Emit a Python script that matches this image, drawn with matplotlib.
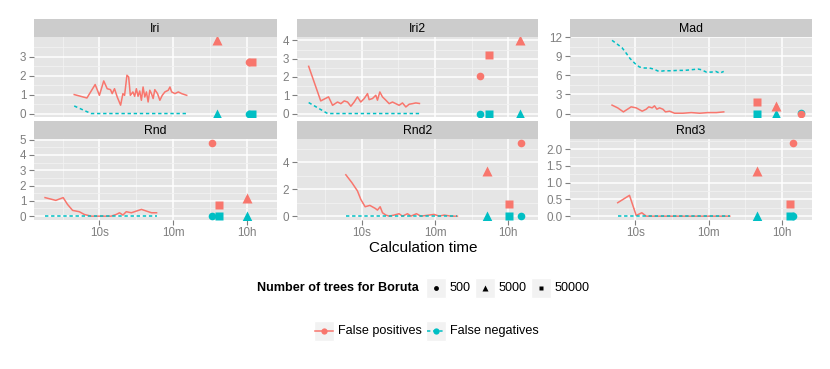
import matplotlib.pyplot as plt
import matplotlib.patches as mpatches
import numpy as np

plt.rcParams['font.family'] = ['Liberation Sans', 'DejaVu Sans']

RED = '#F8766D'
CYAN = '#00BFC4'

panels = ['Iri', 'Iri2', 'Mad', 'Rnd', 'Rnd2', 'Rnd3']
tree_counts = ['500', '5000', '50000']
x_breaks = [10, 600, 36000]
x_labels = ['10s', '10m', '10h']

# line data: calculation time in seconds, false positives / false negatives
iri_fp_t = [2.47, 5.0, 7.9, 10, 12.7, 15.4, 18.5, 20.3, 23.1, 26.9, 32.4, 36.8, 40.4, 46, 50.6, 55.6,
            64, 70.7, 77.6, 85.2, 93.5, 102.6, 112.7, 123.7, 135.8, 149, 163.6, 179.6, 197,
            216, 251, 286, 326, 378, 456, 500, 550, 661, 796, 960, 1270]
iri_fp = [1.0, 0.82, 1.53, 0.96, 1.72, 1.31, 1.26, 1.05, 1.31, 0.87, 0.44, 1.05, 0.96, 2.02, 1.93, 0.96,
          1.14, 0.91, 1.31, 0.91, 1.19, 0.70, 1.40, 0.87, 1.14, 0.61, 1.23, 1.05, 0.79,
          1.26, 1.05, 0.70, 0.96, 1.14, 1.23, 1.40, 1.14, 1.05, 1.14, 1.05, 0.96]
iri_fn_t = [2.47, 6.3, 1270]
iri_fn = [0.4, 0, 0]

iri2_fp_t = [0.51, 1.0, 1.55, 1.94, 2.56, 3.09, 3.72, 4.48, 5.4, 6.5, 7.8, 9.4, 11.4, 13.7, 15.0, 18.1,
             21.8, 23.9, 27.3, 31.6, 38.2, 46, 55.4, 66.7, 80.3, 96.8, 117, 141, 169, 204, 250]
iri2_fp = [2.58, 0.69, 0.91, 0.45, 0.63, 0.54, 0.69, 0.63, 0.40, 0.63, 0.91, 0.63, 0.82, 1.09, 0.76, 0.82,
           1.0, 0.73, 1.18, 0.91, 0.73, 0.54, 0.63, 0.54, 0.45, 0.58, 0.36, 0.51, 0.54, 0.58, 0.55]
iri2_fn_t = [0.51, 1.47, 250]
iri2_fn = [0.6, 0, 0]

mad_fp_t = [2.76, 3.78, 5.2, 8.0, 10.6, 14.8, 18.5, 21.4, 25.8, 29.4, 33.5, 38.9, 46.9, 54.3, 68, 90,
            143, 228, 364, 580, 923, 1390]
mad_fp = [1.32, 0.89, 0.26, 1.05, 0.89, 0.37, 0.68, 1.05, 0.89, 1.21, 0.68, 0.89, 0.68, 0.26, 0.37, 0.05,
          0.05, 0.15, 0.05, 0.15, 0.15, 0.26]
mad_fn_t = [2.76, 3.58, 4.83, 6.0, 7.55, 10.2, 12.7, 16.8, 22.2, 27.8, 37.5, 51.4, 74.6, 108, 157, 228,
            331, 399, 528, 698, 889, 1112, 1390]
mad_fn = [11.48, 10.95, 10.31, 9.52, 8.62, 7.77, 7.30, 7.14, 7.14, 6.98, 6.61, 6.71, 6.71, 6.77, 6.77, 6.87,
          6.98, 6.87, 6.50, 6.50, 6.61, 6.34, 6.61]

rnd_fp_t = [0.49, 0.89, 1.34, 1.70, 2.26, 3.27, 4.33, 6.3, 12.1, 19.2, 25.4, 30.5, 36.8, 44.3, 58.7, 77.6,
            103, 136, 180, 238]
rnd_fp = [1.21, 1.03, 1.21, 0.77, 0.375, 0.29, 0.11, 0, 0, 0, 0.11, 0.22, 0.07, 0.29, 0.22, 0.33,
          0.44, 0.33, 0.22, 0.22]
rnd_fn_t = [0.49, 238]
rnd_fn = [0, 0]

rnd2_fp_t = [4.08, 5.7, 7.8, 9.4, 12.0, 15.6, 21, 23.9, 27.8, 31.7, 38.2, 46, 60.8, 80, 97, 128, 155,
             212, 270, 430, 569, 752, 995, 1446, 2090]
rnd2_fp = [3.08, 2.50, 1.88, 1.25, 0.70, 0.80, 0.58, 0.45, 0.70, 0.25, 0.08, 0, 0.08, 0.18, 0, 0.18, 0,
           0.18, 0, 0.08, 0.13, 0, 0.08, 0, 0]
rnd2_fn_t = [4.08, 2090]
rnd2_fn = [0, 0]

rnd3_fp_t = [3.79, 7.3, 10.6, 14.5, 18.5, 1945]
rnd3_fp = [0.40, 0.62, 0.02, 0.10, 0, 0]
rnd3_fn_t = [3.79, 1945]
rnd3_fn = [0, 0]

# Boruta runs, order 500 / 5000 / 50000 trees
iri_bt_t = [39900, 6790, 47100]
iri_bt_fp = [2.74, 3.86, 2.74]
iri_bt_fn = [0, 0, 0]
iri2_bt_t = [7430, 68400, 12300]
iri2_bt_fp = [2.07, 4.0, 3.18]
iri2_bt_fn = [0, 0, 0]
mad_bt_t = [102800, 25400, 8650]
mad_bt_fp = [0, 1.16, 1.84]
mad_bt_fn = [0.1, 0, 0]
rnd_bt_t = [5140, 36300, 7730]
rnd_bt_fp = [4.78, 1.16, 0.72]
rnd_bt_fn = [0, 0, 0]
rnd2_bt_t = [72300, 10800, 37600]
rnd2_bt_fp = [5.45, 3.38, 0.88]
rnd2_bt_fn = [0, 0, 0]
rnd3_bt_t = [64600, 8930, 56500]
rnd3_bt_fp = [2.18, 1.33, 0.35]
rnd3_bt_fn = [0, 0, 0]

y_breaks = {
    'Iri': [0, 1, 2, 3],
    'Iri2': [0, 1, 2, 3, 4],
    'Mad': [0, 3, 6, 9, 12],
    'Rnd': [0, 1, 2, 3, 4, 5],
    'Rnd2': [0, 2, 4],
    'Rnd3': [0, 0.5, 1.0, 1.5, 2.0],
}

data = {
    'Iri': (iri_fp_t, iri_fp, iri_fn_t, iri_fn, iri_bt_t, iri_bt_fp, iri_bt_fn),
    'Iri2': (iri2_fp_t, iri2_fp, iri2_fn_t, iri2_fn, iri2_bt_t, iri2_bt_fp, iri2_bt_fn),
    'Mad': (mad_fp_t, mad_fp, mad_fn_t, mad_fn, mad_bt_t, mad_bt_fp, mad_bt_fn),
    'Rnd': (rnd_fp_t, rnd_fp, rnd_fn_t, rnd_fn, rnd_bt_t, rnd_bt_fp, rnd_bt_fn),
    'Rnd2': (rnd2_fp_t, rnd2_fp, rnd2_fn_t, rnd2_fn, rnd2_bt_t, rnd2_bt_fp, rnd2_bt_fn),
    'Rnd3': (rnd3_fp_t, rnd3_fp, rnd3_fn_t, rnd3_fn, rnd3_bt_t, rnd3_bt_fp, rnd3_bt_fn),
}

markers = ['o', '^', 's']
msizes = [5.5, 6.5, 5.2]

W, H = 830, 369
fig = plt.figure(figsize=(W / 100, H / 100), dpi=100)


def fr(x, y, w, h):
    return [x / W, 1 - (y + h) / H, w / W, h / H]


col_left = [34, 297, 570]
col_width = [243, 241, 242]
row_top = [36.7, 139.3]
panel_h = 80.5
strip_h = 18

# shared x range (log), ggplot-style 5% expansion
all_t = []
for k in panels:
    d = data[k]
    all_t += list(d[0]) + list(d[2]) + list(d[4])
lo, hi = np.log10(min(all_t)), np.log10(max(all_t))
ex = 0.05 * (hi - lo)
xlim = (10 ** (lo - ex), 10 ** (hi + ex))
lb = np.log10(x_breaks)
x_minor = [10 ** (lb[0] - (lb[1] - lb[0]) / 2), 10 ** ((lb[0] + lb[1]) / 2), 10 ** ((lb[1] + lb[2]) / 2)]

for i, name in enumerate(panels):
    r, c = divmod(i, 3)
    fp_t, fp, fn_t, fn, bt_t, bt_fp, bt_fn = data[name]
    ax = fig.add_axes(fr(col_left[c], row_top[r], col_width[c], panel_h))
    ax.set_facecolor('#E5E5E5')
    for s in ax.spines.values():
        s.set_visible(False)

    ax.plot(fp_t, fp, color=RED, lw=1.1, zorder=3)
    ax.plot(fn_t, fn, color=CYAN, lw=1.1, dashes=(2.2, 1.8), zorder=3)
    for j in range(3):
        ax.plot(bt_t[j], bt_fn[j], marker=markers[j], ms=msizes[j], color=CYAN, mec='none', zorder=4)
    for j in range(3):
        ax.plot(bt_t[j], bt_fp[j], marker=markers[j], ms=msizes[j], color=RED, mec='none', zorder=4)

    ax.set_xscale('log')
    ax.set_xlim(xlim)
    ax.set_xticks(x_breaks)
    ax.set_xticklabels(x_labels)
    ax.set_xticks(x_minor, minor=True)
    ax.xaxis.set_minor_formatter(plt.NullFormatter())

    vals = list(fp) + list(fn) + list(bt_fp) + list(bt_fn)
    ylo, yhi = min(vals), max(vals)
    ey = 0.05 * (yhi - ylo)
    ax.set_ylim(ylo - ey, yhi + ey)
    yb = y_breaks[name]
    step = yb[1] - yb[0]
    ax.set_yticks(yb)
    if name == 'Rnd3':
        ax.set_yticklabels(['%.1f' % v for v in yb])
    ym = [v + step / 2 for v in [yb[0] - step] + yb]
    ax.set_yticks([v for v in ym if ylo - ey < v < yhi + ey], minor=True)

    ax.grid(which='major', color='white', lw=1.1)
    ax.grid(which='minor', color='#F2F2F2', lw=0.6)
    ax.set_axisbelow(True)
    ax.tick_params(which='major', length=3.5, width=0.8, color='#7F7F7F',
                   labelcolor='#7F7F7F', labelsize=8.4, pad=2)
    ax.tick_params(which='minor', length=0)
    if r == 0:
        ax.tick_params(axis='x', which='major', length=0, labelbottom=False)

    st = fig.add_axes(fr(col_left[c], row_top[r] - strip_h, col_width[c], strip_h))
    st.set_facecolor('#CCCCCC')
    st.set_xticks([])
    st.set_yticks([])
    for s in st.spines.values():
        s.set_visible(False)
    st.text(0.5, 0.45, name, ha='center', va='center', fontsize=8.8, transform=st.transAxes)

fig.text(423 / W, 1 - 248 / H, 'Calculation time', ha='center', va='center', fontsize=11)

# legends
lg = fig.add_axes([0, 0, 1, 1])
lg.set_xlim(0, W)
lg.set_ylim(H, 0)
lg.axis('off')

lg.text(256.7, 288, 'Number of trees for Boruta', ha='left', va='center', fontsize=9.1, fontweight='bold')
box_x = [426, 475, 531]
lab_x = [450, 499, 555]
key_ms = [3.5, 4.5, 3.5]
for j in range(3):
    lg.add_patch(mpatches.Rectangle((box_x[j], 278), 20, 20, facecolor='#F2F2F2', edgecolor='white'))
    lg.plot(box_x[j] + 10, 288, marker=markers[j], ms=key_ms[j], color='black', mec='none')
    lg.text(lab_x[j], 288, tree_counts[j], ha='left', va='center', fontsize=9.1)

series_labels = ['False positives', 'False negatives']
series_colors = [RED, CYAN]
box2_x = [314, 426]
lab2_x = [338, 450]
for j in range(2):
    lg.add_patch(mpatches.Rectangle((box2_x[j], 321), 20, 20, facecolor='#F2F2F2', edgecolor='white'))
    if j == 0:
        lg.plot([box2_x[j] + 1, box2_x[j] + 19], [331, 331], color=series_colors[j], lw=1.1)
    else:
        lg.plot([box2_x[j] + 1, box2_x[j] + 19], [331, 331], color=series_colors[j], lw=1.1, dashes=(2.2, 1.8))
    lg.plot(box2_x[j] + 10, 331, marker='o', ms=4.5, color=series_colors[j], mec='none')
    lg.text(lab2_x[j], 331, series_labels[j], ha='left', va='center', fontsize=9.1)

fig.savefig('out.png', dpi=100)
